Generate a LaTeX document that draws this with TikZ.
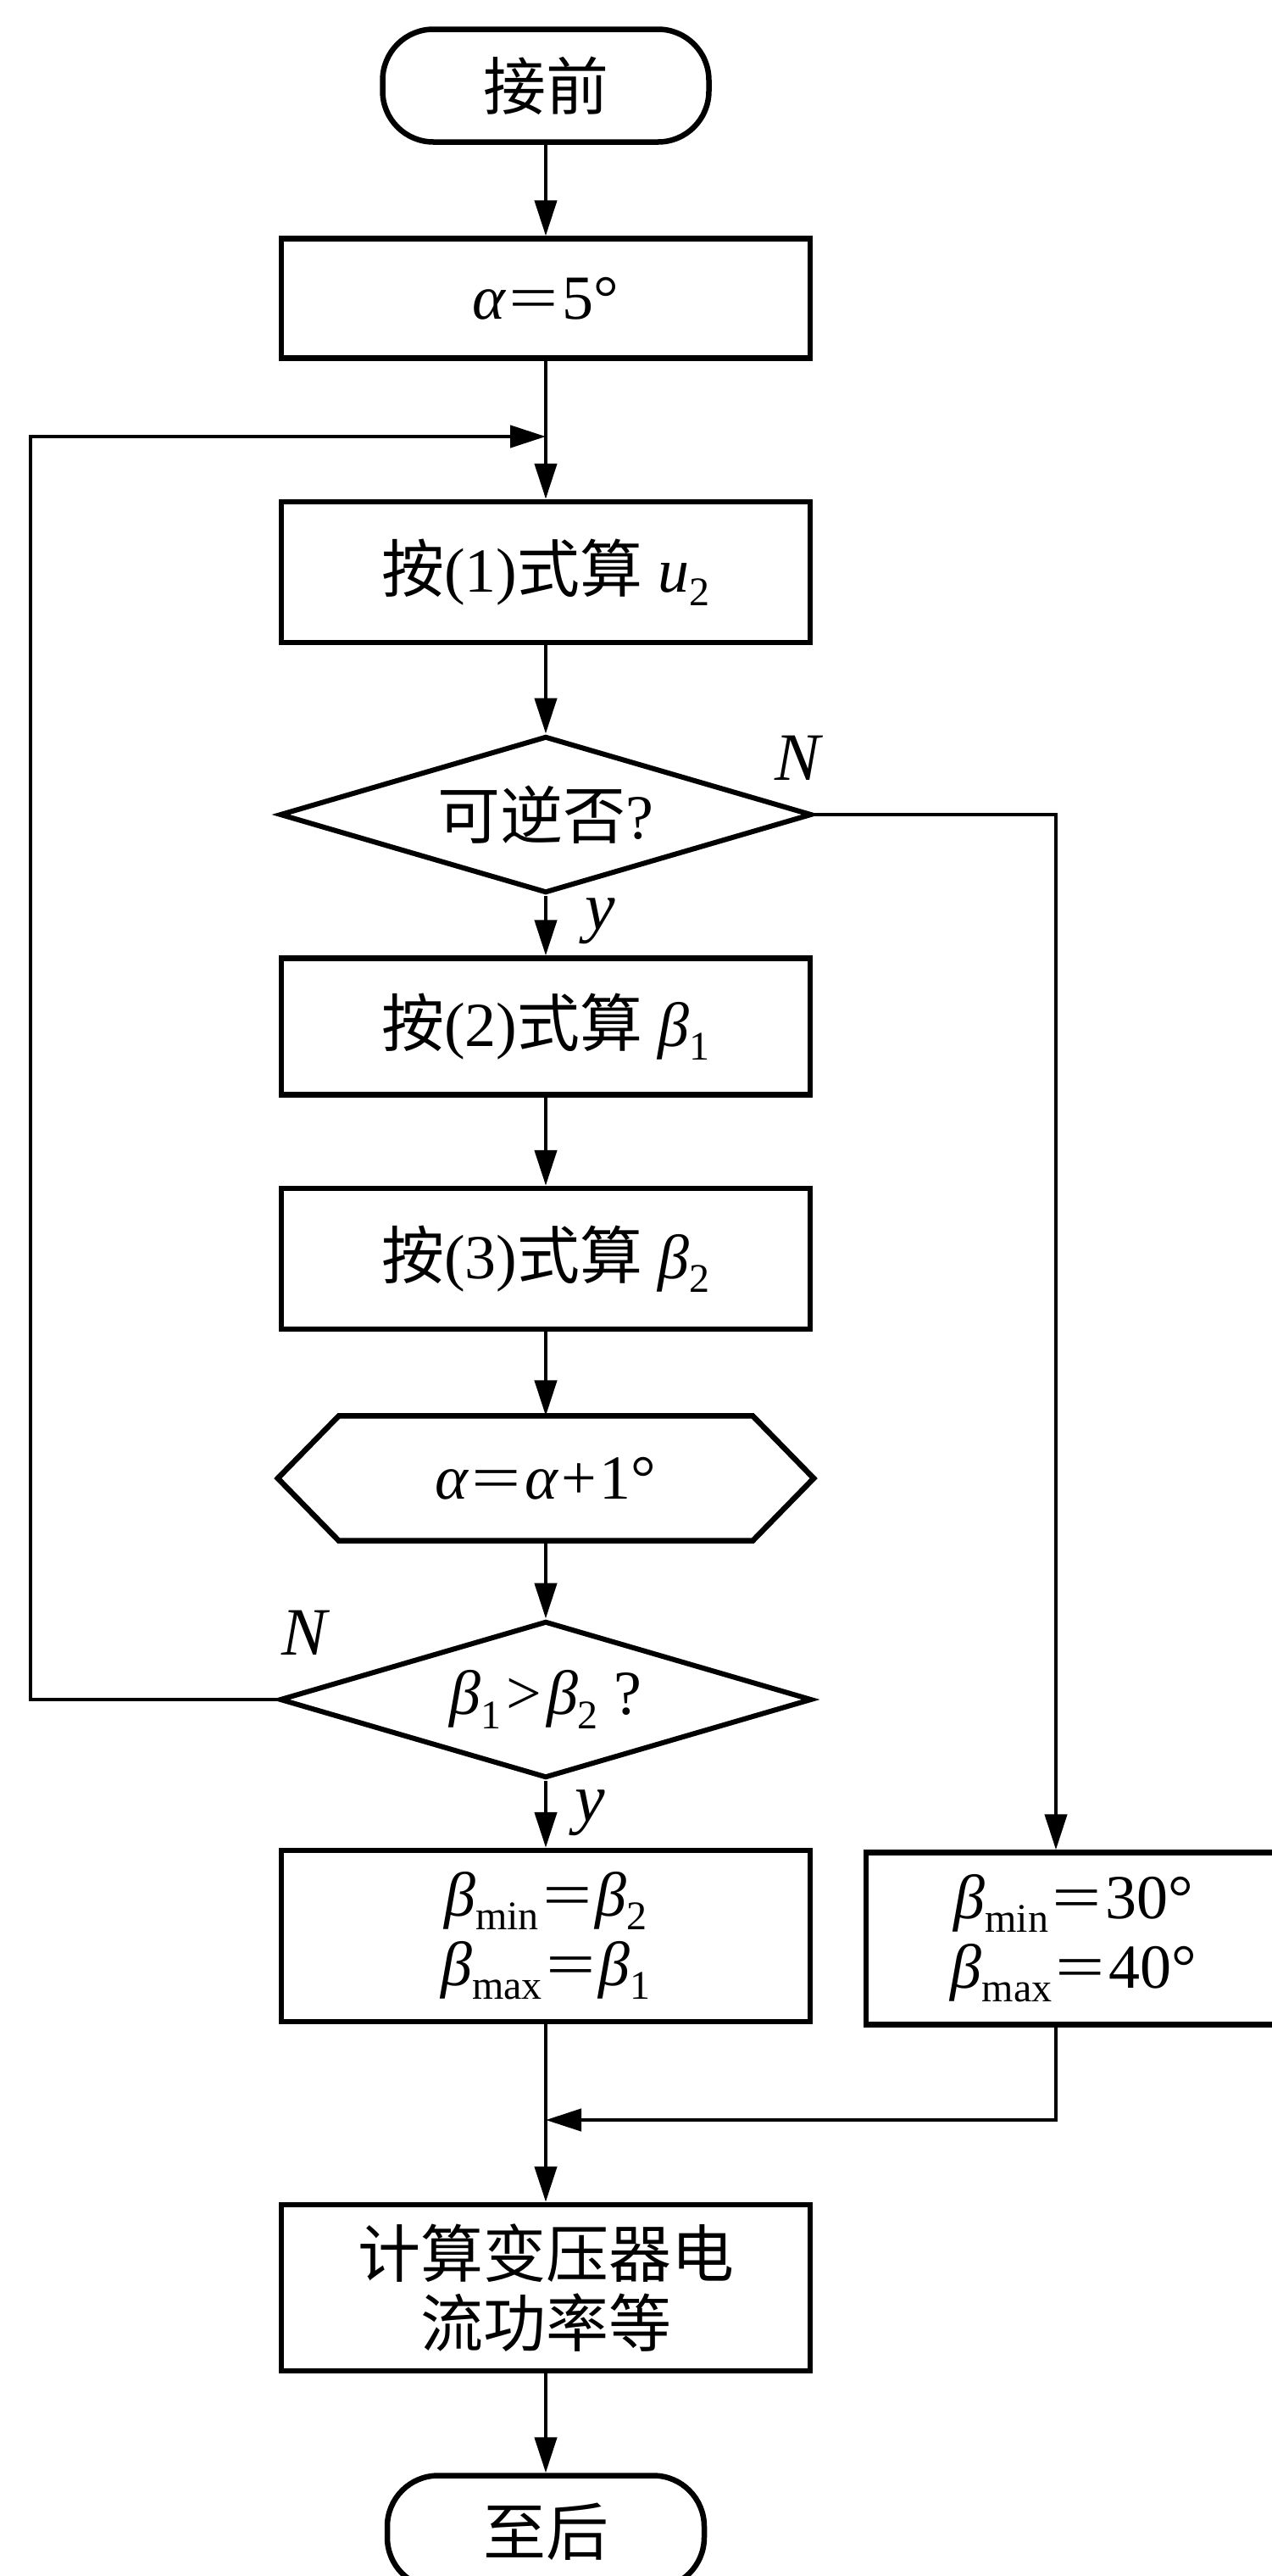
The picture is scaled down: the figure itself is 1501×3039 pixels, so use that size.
\documentclass[tikz,border=0pt]{standalone}
\usepackage{fontspec}
\setmainfont{Liberation Serif}
\newfontfamily\cjk{Noto Sans CJK SC}
\usetikzlibrary{arrows.meta,shapes.geometric}
\newcommand\bigf{\fontsize{74pt}{82pt}\selectfont}
\newcommand\labf{\fontsize{80pt}{80pt}\selectfont}
\newcommand\sub[1]{\raisebox{-0.22em}{\fontsize{48pt}{48pt}\selectfont #1}}
\newcommand\ital[1]{{\itshape #1}}
\newcommand\eq{\kern.06em\scalebox{1.4}[1]{=}\kern.06em}
\begin{document}
\begin{tikzpicture}[x=1pt,y=-1pt,
  box/.style={draw,line width=6.5pt,rectangle,minimum width=624pt,inner sep=0pt,align=center,font=\bigf},
  term/.style={draw,line width=6.5pt,rectangle,rounded corners=60pt,minimum width=385pt,minimum height=133pt,inner sep=0pt,font=\bigf},
  dec/.style={draw,line width=6pt,diamond,aspect=3.4,minimum width=628pt,minimum height=185pt,inner sep=0pt,font=\bigf},
  conn/.style={line width=4.5pt},
  arr/.style={conn,-{Triangle[length=42pt,width=26pt]}},
  lab/.style={font=\labf,inner sep=0pt}]
\fill[white] (0,0) rectangle (1501,3039);
\useasboundingbox (0,0) rectangle (1501,3039);
% nodes
\node[term] (T1) at (644,101) {\cjk 接前};
\node[box,minimum height=141pt] (A) at (644,352) {\ital{α}\eq 5°};
\node[box,minimum height=166pt] (B1) at (644,675) {{\cjk 按}(1){\cjk 式算} \ital{u}\sub{2}};
\node[dec] (D1) at (644,961) {{\cjk 可逆否}?};
\node[box,minimum height=161pt] (B2) at (644,1211) {{\cjk 按}(2){\cjk 式算} \ital{β}\sub{1}};
\node[box,minimum height=166pt] (B3) at (644,1485) {{\cjk 按}(3){\cjk 式算} \ital{β}\sub{2}};
\node[minimum width=632pt,minimum height=147pt,inner sep=0pt,font=\bigf] (H) at (644,1744) {\ital{α}\eq\ital{α}\kern.05em+\kern.05em1°};
\draw[line width=6.5pt,line join=miter] ([xshift=72pt]H.north west) -- ([xshift=-72pt]H.north east) -- (H.east) -- ([xshift=-72pt]H.south east) -- ([xshift=72pt]H.south west) -- (H.west) -- cycle;
\node[dec] (D2) at (644,2005) {\ital{β}\sub{1}\kern.08em>\kern.08em\ital{β}\sub{2} ?};
\node[box,minimum height=202pt] (B4) at (644,2284) {\ital{β}\sub{min}\eq\ital{β}\sub{2}\\\ital{β}\sub{max}\eq\ital{β}\sub{1}};
\node[box,minimum width=490pt,minimum height=203pt] (B5) at (1267,2287) {\ital{β}\sub{min}\eq 30°\\\ital{β}\sub{max}\eq 40°};
\node[box,minimum height=196pt] (B6) at (644,2699) {{\cjk 计算变压器电}\\{\cjk 流功率等}};
\node[term,minimum width=374pt] (T2) at (644,2987) {\cjk 至后};
% helper coordinates
\coordinate (J1) at (644,515);
\coordinate (J2) at (644,2501);
\coordinate (Lx) at (36,0);
\coordinate (Rx) at (1246,0);
% connectors
\draw[arr] (T1) -- (A);
\draw[arr] (A) -- (B1);
\draw[arr] (B1) -- (D1);
\draw[arr] (D1) -- (B2);
\draw[arr] (B2) -- (B3);
\draw[arr] (B3) -- (H);
\draw[arr] (H) -- (D2);
\draw[arr] (D2) -- (B4);
\draw[conn] (B4) -- (J2);
\draw[arr] (J2) -- (B6);
\draw[arr] (B6) -- (T2);
\draw[arr] (D2.west) -- (D2.west -| Lx) |- (J1);
\draw[arr] (D1.east) -| (Rx |- B5.north);
\draw[arr] (Rx |- B5.south) |- (J2);
% labels
\node[lab] (N1) at (941,894) {\ital{N}};
\node[lab] (Y1) at (708,1087) {\ital{y}};
\node[lab] (N2) at (359,1926) {\ital{N}};
\node[lab] (Y2) at (696,2139) {\ital{y}};
\end{tikzpicture}
\end{document}
